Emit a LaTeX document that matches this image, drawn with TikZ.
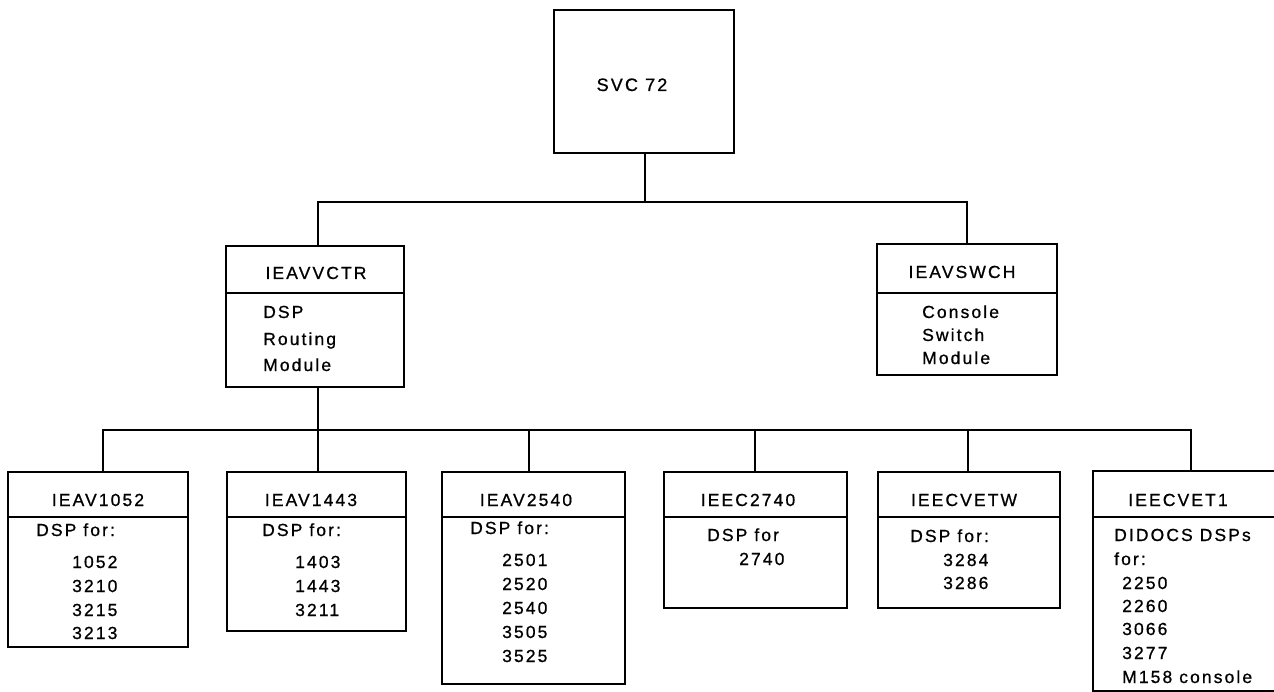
\documentclass[tikz,border=0pt]{standalone}
\usepackage{fontspec}
\setmainfont{Liberation Sans}[LetterSpace=12,FakeBold=0.8]
\newcommand\diafs{\fontsize{17.5}{20}\selectfont}
\tikzset{
  box/.style={draw, line width=1.8pt, rectangle, inner sep=0pt, anchor=north west},
  conn/.style={line width=1.5pt},
  divline/.style={line width=1.8pt},
  txt/.style={anchor=base west, inner sep=0pt, font=\diafs},
  hdr/.style={anchor=base, inner sep=0pt, font=\diafs},
}
\begin{document}
\begin{tikzpicture}[x=1pt,y=-1pt]
\useasboundingbox (0,0) rectangle (1274,692);
% boxes
\node[box, minimum width=180pt, minimum height=143pt] (svc) at (553,9) {};
\node[box, minimum width=178pt, minimum height=141pt] (vctr) at (225,245) {};
\node[box, minimum width=180pt, minimum height=131pt] (swch) at (876,243) {};
\node[box, minimum width=180pt, minimum height=175pt] (b1) at (7,471) {};
\node[box, minimum width=179pt, minimum height=159pt] (b2) at (226,471) {};
\node[box, minimum width=183pt, minimum height=212pt] (b3) at (441,471) {};
\node[box, minimum width=183pt, minimum height=136pt] (b4) at (663,471) {};
\node[box, minimum width=182pt, minimum height=136pt] (b5) at (877,471) {};
\node[box, minimum width=200pt, minimum height=220pt] (b6) at (1092,470) {};
% dividers
\foreach \b in {vctr,swch} \draw[divline] (\b.west |- 0,293) -- (\b.east |- 0,293);
\foreach \b in {b1,b2,b3,b4,b5,b6} \draw[divline] (\b.west |- 0,517) -- (\b.east |- 0,517);
% connectors
\coordinate (busA) at (645,202);
\coordinate (busB) at (318,430);
\draw[conn] (svc.south -| busA) -- (busA);
\draw[conn] (vctr.north -| 318,0) |- (busA) -| (swch.north -| 967,0);
\draw[conn] (vctr.south -| busB) -- (busB);
\draw[conn] (b1.north -| 103,0) |- (busB) -| (b6.north -| 1191,0);
\draw[conn] (busB) -- (b2.north -| busB);
\draw[conn] (529,430) -- (b3.north -| 529,0);
\draw[conn] (755,430) -- (b4.north -| 755,0);
\draw[conn] (968,430) -- (b5.north -| 968,0);
% headers
\node[hdr, font=\fontsize{18}{21}\selectfont] (svct) at (632,91) {SVC 72};
\node[hdr] (vctrh) at (316,279) {IEAVVCTR};
\node[hdr] (swchh) at (962,278) {IEAVSWCH};
\node[hdr] (b1h) at (98,506) {IEAV1052};
\node[hdr] (b2h) at (311,506) {IEAV1443};
\node[hdr] (b3h) at (526,506) {IEAV2540};
\node[hdr] (b4h) at (748,506) {IEEC2740};
\node[hdr] (b5h) at (964,506) {IEECVETW};
\node[hdr] (b6h) at (1178,506) {IEECVET1};
% body texts
\foreach \x/\y/\t [count=\i] in {263/318/DSP, 263/345/Routing, 263/371/Module}
  \node[txt, name=vctrl\i] at (\x,\y) {\t};
\foreach \x/\y/\t [count=\i] in {922/318/Console, 922/341/Switch, 922/364/Module}
  \node[txt, name=swchl\i] at (\x,\y) {\t};
\foreach \x/\y/\t [count=\i] in {36/536/{DSP for:}, 72/568/1052, 72/592/3210, 72/616/3215, 72/639/3213}
  \node[txt, name=b1l\i] at (\x,\y) {\t};
\foreach \x/\y/\t [count=\i] in {262/536/{DSP for:}, 295/568/1403, 295/592/1443, 295/616/3211}
  \node[txt, name=b2l\i] at (\x,\y) {\t};
\foreach \x/\y/\t [count=\i] in {470/534/{DSP for:}, 502/566/2501, 502/590/2520, 502/614/2540, 502/638/3505, 502/662/3525}
  \node[txt, name=b3l\i] at (\x,\y) {\t};
\foreach \x/\y/\t [count=\i] in {707/541/{DSP for}, 739/565/2740}
  \node[txt, name=b4l\i] at (\x,\y) {\t};
\foreach \x/\y/\t [count=\i] in {910/542/{DSP for:}, 943/566/3284, 943/589/3286}
  \node[txt, name=b5l\i] at (\x,\y) {\t};
\foreach \x/\y/\t [count=\i] in {1114/541/{DIDOCS DSPs}, 1114/565/{for:}, 1122/589/2250, 1122/612/2260, 1122/635/3066, 1122/659/3277, 1122/683/{M158 console}}
  \node[txt, name=b6l\i] at (\x,\y) {\t};
\end{tikzpicture}
\end{document}
